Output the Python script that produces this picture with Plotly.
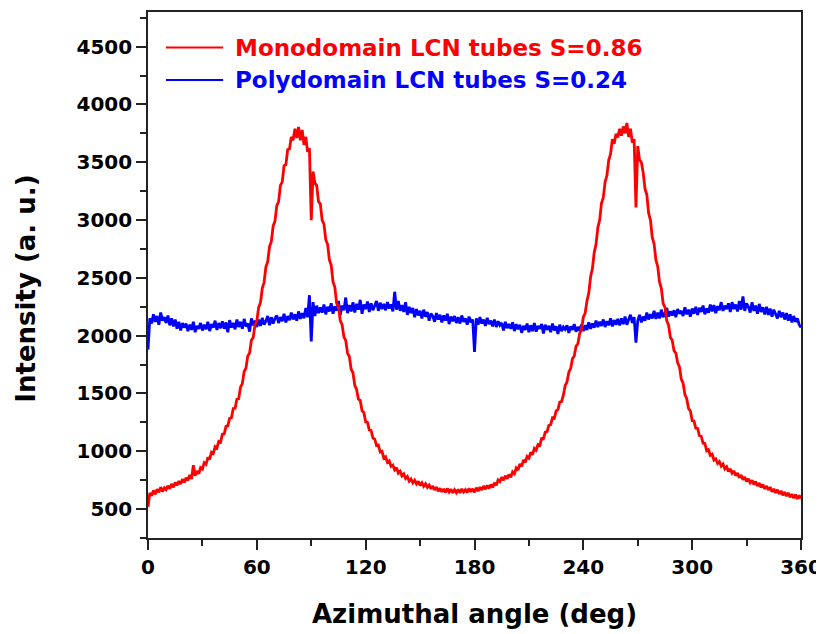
import plotly.graph_objects as go

# Azimuthal angle (deg), one sample per degree
angle = list(range(0, 361))

# Monodomain LCN tubes S=0.86 (red)
mono = [
    520, 640, 615, 662, 628, 671, 645, 690, 652, 683, 668,   # 0-10
    702, 676, 718, 689, 731, 705, 742, 716, 758, 731,        # 11-20
    770, 748, 795, 760, 880, 788, 829, 805, 858,             # 21-29
    846, 901, 888, 948, 930, 992,                            # 30-35
    981, 1040, 1028, 1085, 1079,                             # 36-40
    1148, 1150, 1215, 1220, 1285,                            # 41-45
    1290, 1370, 1372, 1450, 1455,                            # 46-50
    1555, 1585, 1690, 1718, 1825,                            # 51-55
    1850, 1960, 1985, 2095, 2128,                            # 56-60
    2245, 2285, 2410, 2462, 2595,                            # 61-65
    2640, 2770, 2815, 2950, 2990,                            # 66-70
    3125, 3160, 3300, 3330, 3470,                            # 71-75
    3480, 3610, 3615, 3720, 3690,                            # 76-80
    3790, 3710, 3805, 3690, 3780,                            # 81-85
    3650, 3720, 3590, 3620, 3000,                            # 86-90
    3420, 3320, 3300, 3160, 3140,                            # 91-95
    3000, 2965, 2830, 2790, 2655,                            # 96-100
    2610, 2465, 2420, 2280, 2250,                            # 101-105
    2130, 2095, 1990, 1960, 1850,                            # 106-110
    1820, 1710, 1680, 1570, 1535,                            # 111-115
    1450, 1440, 1350, 1335, 1255,                            # 116-120
    1250, 1185, 1180, 1115, 1105,                            # 121-125
    1050, 1055, 995, 1000, 940,                              # 126-130
    952, 905, 918, 870, 880,                                 # 131-135
    840, 858, 812, 828, 788,                                 # 136-140
    805, 765, 782, 742, 760,                                 # 141-145
    728, 750, 718, 740, 705,                                 # 146-150
    728, 698, 720, 688, 708,                                 # 151-155
    675, 700, 665, 690, 655,                                 # 156-160
    680, 650, 675, 645, 678, 648, 672, 640, 668, 642,        # 161-170
    670, 640, 675, 648, 668, 645, 680, 650, 675, 645,        # 171-180
    685, 655, 690, 665, 700, 672, 705, 678, 712, 688,        # 181-190
    728, 705, 752, 738, 775,                                 # 191-195
    750, 788, 762, 800, 775,                                 # 196-200
    822, 805, 855, 838, 890,                                 # 201-205
    870, 925, 905, 955, 940,                                 # 206-210
    990, 972, 1025, 1010, 1058,                              # 211-215
    1050, 1110, 1108, 1165, 1170,                            # 216-220
    1225, 1230, 1290, 1285, 1350,                            # 221-225
    1360, 1425, 1430, 1485, 1570,                            # 226-230
    1600, 1685, 1715, 1800, 1825,                            # 231-235
    1910, 1930, 2020, 2055, 2160,                            # 236-240
    2195, 2300, 2370, 2510, 2580,                            # 241-245
    2720, 2790, 2935, 3000, 3145,                            # 246-250
    3195, 3330, 3385, 3520, 3570,                            # 251-255
    3700, 3660, 3745, 3715, 3790,                            # 256-260
    3730, 3810, 3750, 3840, 3720,                            # 261-265
    3790, 3670, 3700, 3110, 3640,                            # 266-270
    3520, 3500, 3410, 3270, 3220,                            # 271-275
    3060, 3000, 2850, 2795, 2655,                            # 276-280
    2600, 2465, 2410, 2280, 2245,                            # 281-285
    2130, 2090, 1985, 1960, 1870,                            # 286-290
    1850, 1765, 1730, 1625, 1590,                            # 291-295
    1490, 1455, 1370, 1350, 1265,                            # 296-300
    1262, 1200, 1198, 1135, 1130,                            # 301-305
    1070, 1068, 1005, 1015, 965,                             # 306-310
    975, 925, 935, 895, 912,                                 # 311-315
    872, 890, 848, 866, 825,                                 # 316-320
    848, 810, 830, 790, 812, 772, 795, 755, 778, 738,        # 321-330
    762, 728, 750, 712, 738, 700, 725, 688, 712, 675,        # 331-340
    700, 665, 690, 650, 675,                                 # 341-345
    640, 668, 630, 658, 620,                                 # 346-350
    648, 612, 640, 602, 630,                                 # 351-355
    595, 625, 588, 618, 592,                                 # 356-360
]

# Polydomain LCN tubes S=0.24 (blue)
poly = [
    1880, 2150, 2105, 2185, 2120, 2170, 2095, 2200, 2130, 2160, 2110,   # 0-10
    2175, 2090, 2150, 2080, 2140, 2060, 2120, 2045, 2110, 2070,         # 11-20
    2105, 2040, 2095, 2050, 2120, 2030, 2085, 2060, 2110, 2045,         # 21-30
    2095, 2055, 2120, 2040, 2100, 2070, 2130, 2050, 2110, 2065,         # 31-40
    2125, 2060, 2115, 2030, 2135, 2070, 2110, 2055, 2140, 2075,         # 41-50
    2120, 2060, 2145, 2080, 2105, 2035, 2150, 2090, 2130, 2075,         # 51-60
    2140, 2085, 2155, 2095, 2125, 2170, 2090, 2160, 2105, 2150,         # 61-70
    2175, 2110, 2160, 2125, 2190, 2115, 2170, 2135, 2200, 2140,         # 71-80
    2185, 2130, 2210, 2145, 2195, 2150, 2240, 2160,                     # 81-88
    2350, 1950, 2290,                                                   # 89-91
    2170, 2260, 2195, 2245, 2200, 2270, 2185, 2250, 2210,               # 92-100
    2280, 2190, 2255, 2215, 2300, 2180, 2260, 2220, 2330, 2195,         # 101-110
    2265, 2210, 2290, 2200, 2275, 2225, 2310, 2190, 2270, 2230,         # 111-120
    2295, 2205, 2280, 2220, 2260, 2300, 2215, 2285, 2230, 2275,         # 121-130
    2220, 2290, 2235, 2270, 2210, 2380, 2225, 2300, 2215, 2265,         # 131-140
    2205, 2290, 2180, 2250, 2195, 2240, 2160, 2230, 2175, 2215,         # 141-150
    2150, 2225, 2165, 2205, 2130, 2190, 2170, 2120, 2195, 2140,         # 151-160
    2180, 2115, 2175, 2130, 2190, 2100, 2165, 2125, 2170, 2110,         # 161-170
    2160, 2105, 2175, 2120, 2150, 2095, 2165, 2115, 2140, 1860,         # 171-180
    2150, 2095, 2160, 2105, 2140, 2085, 2155, 2100, 2130, 2080,         # 181-190
    2140, 2075, 2125, 2090, 2110, 2045, 2120, 2065, 2100, 2060,         # 191-200
    2115, 2040, 2100, 2055, 2095, 2025, 2085, 2050, 2105, 2030,         # 201-210
    2090, 2040, 2110, 2035, 2085, 2060, 2100, 2020, 2095, 2050,         # 211-220
    2085, 2030, 2105, 2045, 2080, 2015, 2095, 2040, 2075, 2055,         # 221-230
    2090, 2025, 2080, 2050, 2100, 2035, 2075, 2045, 2095, 2040,         # 231-240
    2090, 2050, 2115, 2060, 2105, 2070, 2130, 2075, 2120, 2085,         # 241-250
    2140, 2075, 2125, 2090, 2150, 2080, 2135, 2095, 2145, 2090,         # 251-260
    2150, 2100, 2165, 2095, 2140, 2180, 2110, 2160,                     # 261-268
    1940, 2130,                                                         # 269-270
    2180, 2115, 2165, 2130, 2200, 2140, 2185, 2150, 2215, 2145,         # 271-280
    2200, 2150, 2225, 2160, 2195, 2240, 2165, 2210, 2175, 2220,         # 281-290
    2160, 2230, 2190, 2215, 2170, 2245, 2185, 2225, 2165, 2235,         # 291-300
    2190, 2250, 2180, 2240, 2205, 2260, 2185, 2235, 2200, 2270,         # 301-310
    2210, 2265, 2195, 2255, 2220, 2290, 2215, 2260, 2230, 2280,         # 311-320
    2205, 2290, 2230, 2270, 2210, 2300, 2225, 2340, 2215, 2280,         # 321-330
    2250, 2200, 2290, 2215, 2260, 2190, 2275, 2205, 2245, 2185,         # 331-340
    2250, 2180, 2235, 2165, 2225, 2190, 2150, 2215, 2160, 2200,         # 341-350
    2140, 2195, 2130, 2185, 2115, 2170, 2120, 2150, 2095, 2070,         # 351-360
]

x_ticks = [0, 60, 120, 180, 240, 300, 360]
x_minor = [30, 90, 150, 210, 270, 330]
y_ticks = [500, 1000, 1500, 2000, 2500, 3000, 3500, 4000, 4500]
y_minor = [250, 750, 1250, 1750, 2250, 2750, 3250, 3750, 4250, 4750]

series_names = ["Monodomain LCN tubes S=0.86", "Polydomain LCN tubes S=0.24"]
series_colors = ["#FF0000", "#0000FF"]

FONT = "DejaVu Sans"
AX = "#222222"

fig = go.Figure()
fig.add_trace(go.Scatter(x=angle, y=poly, mode="lines", name=series_names[1],
                         line=dict(color=series_colors[1], width=2.8), showlegend=False))
fig.add_trace(go.Scatter(x=angle, y=mono, mode="lines", name=series_names[0],
                         line=dict(color=series_colors[0], width=2.8), showlegend=False))

tickfont = dict(family=FONT, size=20, color="black", weight="bold")

fig.update_xaxes(range=[0, 360], tickvals=x_ticks, ticktext=[str(v) for v in x_ticks],
                 ticks="outside", ticklen=10, tickwidth=1.5, tickcolor=AX,
                 showline=True, linecolor=AX, linewidth=1.6, mirror=True,
                 showgrid=False, zeroline=False, tickfont=tickfont,
                 minor=dict(tickvals=x_minor, ticks="outside", ticklen=6, tickwidth=1.5,
                            tickcolor=AX, showgrid=False))
fig.update_yaxes(range=[250, 4800], tickvals=y_ticks, ticktext=[str(v) for v in y_ticks],
                 ticks="outside", ticklen=10, tickwidth=1.5, tickcolor=AX,
                 showline=True, linecolor=AX, linewidth=1.6, mirror=True,
                 showgrid=False, zeroline=False, tickfont=tickfont,
                 minor=dict(tickvals=y_minor, ticks="outside", ticklen=6, tickwidth=1.5,
                            tickcolor=AX, showgrid=False))

annotations = [
    dict(text="Azimuthal angle (deg)", xref="paper", yref="paper", x=0.5, y=-0.1439,
         xanchor="center", yanchor="middle", showarrow=False,
         font=dict(family=FONT, size=26, color="black", weight="bold")),
    dict(text="Intensity (a. u.)", xref="paper", yref="paper", x=-0.1865, y=0.4744,
         xanchor="center", yanchor="middle", textangle=-90, showarrow=False,
         font=dict(family=FONT, size=26, color="black", weight="bold")),
]
shapes = []
legend_y = [0.9324, 0.8706]
for name, color, ly in zip(series_names, series_colors, legend_y):
    shapes.append(dict(type="line", xref="paper", yref="paper", x0=0.0275, x1=0.1151,
                       y0=ly, y1=ly, line=dict(color=color, width=2)))
    annotations.append(dict(text=name, xref="paper", yref="paper", x=0.1295, y=ly,
                            xanchor="left", yanchor="middle", showarrow=False,
                            font=dict(family=FONT, size=23, color=color, weight="bold")))

# The page body adds an 8 px margin, so the figure is 8 px smaller and its
# plot area sits 8 px further up/left to land where the reference has it.
fig.update_layout(width=816, height=626, paper_bgcolor="white", plot_bgcolor="white",
                  margin=dict(l=140, r=22, t=2, b=96), showlegend=False,
                  annotations=annotations, shapes=shapes)

fig.write_html("out.html")
